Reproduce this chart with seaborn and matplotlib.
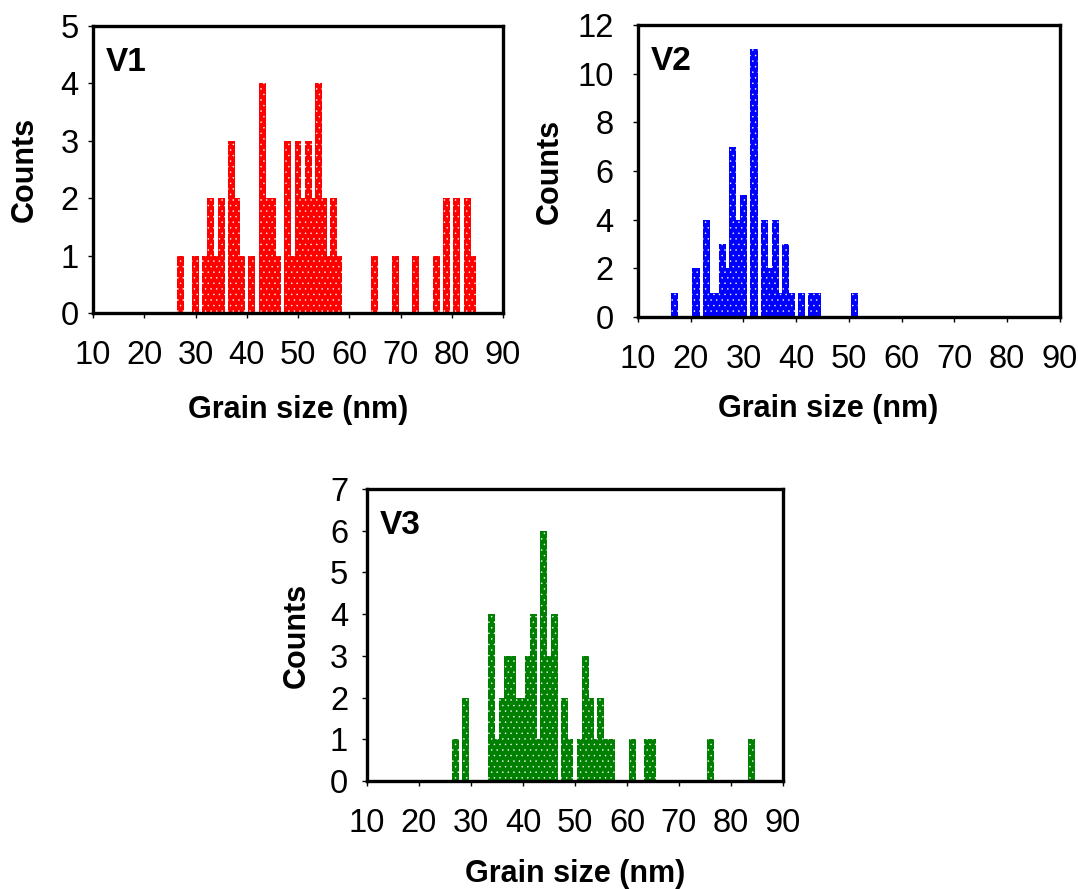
import matplotlib
matplotlib.use('Agg')
import matplotlib.pyplot as plt
import seaborn as sns

# grain size (nm) and counts
v1_size = [27, 30, 32, 33, 34, 35, 37, 38, 39, 41, 43, 44, 45, 46, 48, 49, 50, 51, 52, 53,
           54, 55, 56, 57, 58, 65, 69, 73, 77, 79, 81, 83, 84]
v1_count = [1, 1, 1, 2, 1, 2, 3, 2, 1, 1, 4, 2, 2, 1, 3, 1, 3, 2, 3, 2,
            4, 2, 1, 2, 1, 1, 1, 1, 1, 2, 2, 2, 1]

v2_size = [17, 21, 23, 24, 25, 26, 27, 28, 29, 30, 32, 34, 35, 36, 37, 38, 39, 41, 43, 44, 51]
v2_count = [1, 2, 4, 1, 1, 3, 2, 7, 4, 5, 11, 4, 2, 4, 1, 3, 1, 1, 1, 1, 1]

v3_size = [27, 29, 34, 35, 36, 37, 38, 39, 40, 41, 42, 43, 44, 45, 46, 48, 49, 51, 52, 53,
           54, 55, 56, 57, 61, 64, 65, 76, 84]
v3_count = [1, 2, 4, 1, 2, 3, 3, 2, 2, 3, 4, 1, 6, 3, 4, 2, 1, 1, 3, 2,
            1, 2, 1, 1, 1, 1, 1, 1, 1]

x_ticks = [10, 20, 30, 40, 50, 60, 70, 80, 90]

sns.set_style('ticks')
plt.rcParams['font.family'] = ['Liberation Sans', 'DejaVu Sans']
plt.rcParams['hatch.linewidth'] = 0.3
plt.rcParams['text.color'] = 'black'
plt.rcParams['axes.labelcolor'] = 'black'
plt.rcParams['xtick.color'] = 'black'
plt.rcParams['ytick.color'] = 'black'

fig = plt.figure(figsize=(10.78, 8.89), dpi=100)

panels = [
    # name, sizes, counts, colour, ymax, ystep, rect, ylabel x, xlabel (x, y), ytick pad
    ('V1', v1_size, v1_count, '#ff0000', 5, 1, [0.0863, 0.6479, 0.3803, 0.3228], -0.13, (0.5, -0.285), 7),
    ('V2', v2_size, v2_count, '#0000ff', 12, 2, [0.5918, 0.6434, 0.3915, 0.3285], -0.174, (0.45, -0.265), 14),
    ('V3', v3_size, v3_count, '#008000', 7, 1, [0.3404, 0.1215, 0.3859, 0.3285], -0.133, (0.5, -0.268), 10),
]

for name, sizes, counts, col, ymax, ystep, rect, ylx, xlpos, ypad in panels:
    ax = fig.add_axes(rect)
    sns.histplot(x=sizes, weights=counts, discrete=True, shrink=1.35,
                 color=col, alpha=1, edgecolor='white', linewidth=0,
                 hatch='...', ax=ax)
    ax.set_xlim(10, 90)
    ax.set_ylim(0, ymax)
    ax.set_xticks(x_ticks)
    ax.set_yticks(list(range(0, ymax + 1, ystep)))
    for sp in ax.spines.values():
        sp.set_visible(True)
        sp.set_linewidth(2.4)
        sp.set_color('black')
    ax.tick_params(axis='both', direction='out', length=3.5, width=1,
                   labelsize=23.5, colors='black')
    ax.tick_params(axis='x', pad=16)
    ax.tick_params(axis='y', pad=ypad)
    ax.set_ylabel('Counts', fontsize=22, fontweight='bold')
    ax.set_xlabel('Grain size (nm)', fontsize=22, fontweight='bold')
    ax.yaxis.set_label_coords(ylx, 0.5)
    ax.xaxis.set_label_coords(*xlpos)
    ax.text(0.03, 0.845, name, transform=ax.transAxes, fontsize=24,
            fontweight='bold', va='baseline')

fig.savefig('out.png', dpi=100)
